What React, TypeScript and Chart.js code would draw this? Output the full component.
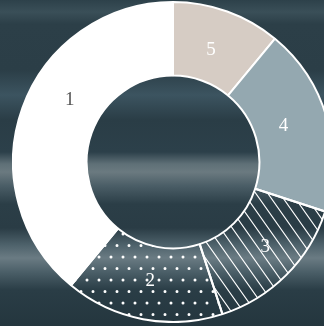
import React, { useEffect, useRef } from "react";
import { Chart, registerables } from "chart.js";

Chart.register(...registerables);

const labels = ["5", "4", "3", "2", "1"];
const values = [11, 19, 15, 16, 39];
const labelColors = ["#ffffff", "#ffffff", "#ffffff", "#ffffff", "#555555"];
const labelAngleShiftDeg = [-1, -2, -2.5, 0, 11];
const labelRadiusShift = [-3, -5, 4, 0, -1];

function hatchPattern(): CanvasPattern | string {
  const c = document.createElement("canvas");
  const w = 12;
  const h = 17;
  c.width = w;
  c.height = h;
  const g = c.getContext("2d");
  if (!g) return "transparent";
  g.strokeStyle = "#ffffff";
  g.lineWidth = 1.1;
  g.beginPath();
  for (let k = -1; k <= 1; k++) {
    g.moveTo(k * w - w * 0.2, -h * 0.2);
    g.lineTo(k * w + w * 1.2, h * 1.2);
  }
  g.stroke();
  return g.createPattern(c, "repeat") || "transparent";
}

function dotPattern(): CanvasPattern | string {
  const c = document.createElement("canvas");
  c.width = 12;
  c.height = 23;
  const g = c.getContext("2d");
  if (!g) return "transparent";
  g.fillStyle = "#ffffff";
  g.beginPath();
  g.arc(3, 3, 1.5, 0, Math.PI * 2);
  g.closePath();
  g.moveTo(10.5, 14.5);
  g.arc(9, 14.5, 1.5, 0, Math.PI * 2);
  g.fill();
  return g.createPattern(c, "repeat") || "transparent";
}

export default function App() {
  const ref = useRef<HTMLCanvasElement>(null);
  useEffect(() => {
    document.body.style.overflow = "hidden";
    const canvas = ref.current;
    if (!canvas) return;
    const labelPlugin = {
      id: "sliceLabels",
      afterDatasetsDraw(chart: any) {
        const ctx = chart.ctx;
        const meta = chart.getDatasetMeta(0);
        ctx.save();
        ctx.font = "19px 'Liberation Serif', 'DejaVu Serif', serif";
        ctx.textAlign = "center";
        ctx.textBaseline = "middle";
        meta.data.forEach((arc: any, i: number) => {
          const p = arc.getProps(["x", "y", "startAngle", "endAngle", "innerRadius", "outerRadius"], true);
          const a = (p.startAngle + p.endAngle) / 2 + (labelAngleShiftDeg[i] * Math.PI) / 180;
          const r = (p.innerRadius + p.outerRadius) / 2 - 2 + labelRadiusShift[i];
          ctx.fillStyle = labelColors[i];
          ctx.fillText(labels[i], p.x + Math.cos(a) * r, p.y + Math.sin(a) * r);
        });
        ctx.restore();
      },
    };
    const chart = new Chart(canvas, {
      type: "doughnut",
      data: {
        labels,
        datasets: [
          {
            data: values,
            backgroundColor: [
              "rgba(214,204,196,1)",
              "rgba(148,168,176,1)",
              hatchPattern(),
              dotPattern(),
              "#ffffff",
            ] as any,
            borderColor: "#ffffff",
            borderWidth: 2,
          },
        ],
      },
      options: {
        responsive: false,
        animation: false,
        cutout: "54%",
        layout: { padding: 0 },
        plugins: {
          legend: { display: false },
          tooltip: { enabled: false },
        },
      },
      plugins: [labelPlugin],
    });
    return () => chart.destroy();
  }, []);

  return (
    <div
      style={{
        position: "fixed",
        left: 0,
        top: 0,
        width: 324,
        height: 326,
        overflow: "hidden",
        background:
          "linear-gradient(to bottom, #2d414a 0px, #3a4f58 12px, #2c3f48 24px, #2b3e47 70px, #3c5460 95px, #2a3d46 120px, #2c404a 152px, #5f7077 164px, #6b7a80 172px, #4a5d66 186px, #2b3e47 204px, #2a3c45 228px, #4e626b 245px, #6a7b83 258px, #4b5f68 272px, #2a3d46 290px, #24363e 326px)",
      }}
    >
      <canvas
        ref={ref}
        width={322}
        height={322}
        style={{ position: "absolute", left: 12, top: 1, width: 322, height: 322 }}
      />
    </div>
  );
}
